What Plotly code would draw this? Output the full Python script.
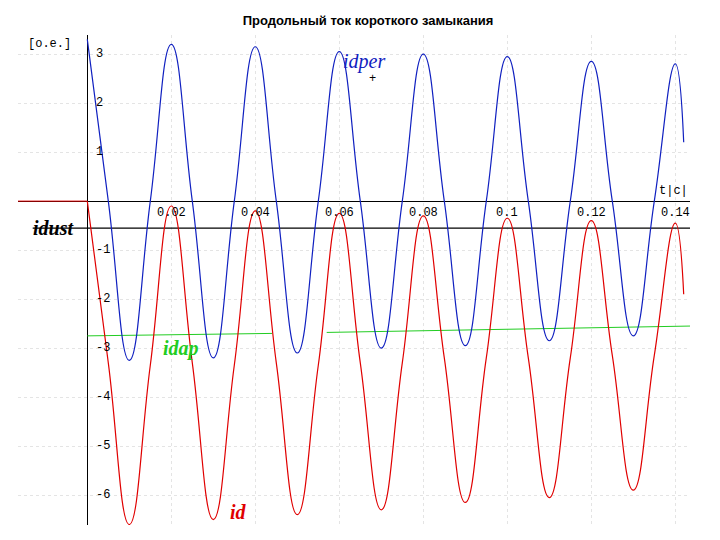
import plotly.graph_objects as go

# time points every quarter period (s)
t = [i * 0.005 for i in range(29)] + [0.142]

idper = [3.3, 0, -3.25, 0, 3.2, 0, -3.2, 0, 3.15, 0, -3.1, 0, 3.05, 0, -3.0, 0,
         3.0, 0, -2.95, 0, 2.95, 0, -2.85, 0, 2.85, 0, -2.75, 0, 2.8, 1.2]
id_ = [0, -3.3, -6.6, -3.35, -0.1, -3.3, -6.5, -3.35, -0.2, -3.3, -6.4, -3.35,
       -0.25, -3.3, -6.3, -3.3, -0.3, -3.2, -6.15, -3.2, -0.35, -3.2, -6.05,
       -3.2, -0.4, -3.15, -5.9, -3.15, -0.45, -1.9]

idap_t1 = [0.0, 0.044]
idap_1 = [-2.75, -2.7]
idap_t2 = [0.057, 0.1435]
idap_2 = [-2.68, -2.55]

id_pre_t = [-0.0165, 0.0]
id_pre = [0, 0]
idust_t = [-0.013, 0.1435]
idust = [-0.55, -0.55]

x_ticks = [0.02, 0.04, 0.06, 0.08, 0.1, 0.12, 0.14]
x_tick_labels = ["0.02", "0.04", "0.06", "0.08", "0.1", "0.12", "0.14"]
y_ticks = [3, 2, 1, -1, -2, -3, -4, -5, -6]

mono = "Liberation Mono"

fig = go.Figure()
fig.add_trace(go.Scatter(x=idust_t, y=idust, mode="lines", line=dict(color="black", width=1.2)))
fig.add_trace(go.Scatter(x=id_pre_t, y=id_pre, mode="lines", line=dict(color="#e00000", width=1)))
fig.add_trace(go.Scatter(x=idap_t1, y=idap_1, mode="lines", line=dict(color="#22cc22", width=1)))
fig.add_trace(go.Scatter(x=idap_t2, y=idap_2, mode="lines", line=dict(color="#22cc22", width=1)))
fig.add_trace(go.Scatter(x=t, y=idper, mode="lines",
                         line=dict(color="#1020c0", width=1.2, shape="spline", smoothing=1.3)))
fig.add_trace(go.Scatter(x=t, y=id_, mode="lines",
                         line=dict(color="#e00000", width=1.2, shape="spline", smoothing=1.3)))

ann = []
for v, s in zip(x_ticks, x_tick_labels):
    ann.append(dict(x=v, y=-0.05, text=s, showarrow=False, yanchor="top",
                    font=dict(family=mono, size=12, color="black")))
for v in y_ticks:
    ann.append(dict(x=0.0015, y=v, text=str(v), showarrow=False, xanchor="left",
                    font=dict(family=mono, size=12, color="black")))
ann += [
    dict(x=-0.0145, y=3.2, text="[o.e.]", showarrow=False, xanchor="left",
         font=dict(family=mono, size=12, color="black")),
    dict(x=0.1435, y=0.2, text="t|c|", showarrow=False, xanchor="right",
         font=dict(family=mono, size=12, color="black")),
    dict(x=0.0605, y=2.85, text="<i>idper</i>", showarrow=False, xanchor="left",
         font=dict(family="Liberation Serif", size=20, color="#1020c0")),
    dict(x=0.068, y=2.5, text="+", showarrow=False,
         font=dict(family=mono, size=12, color="black")),
    dict(x=-0.0135, y=-0.55, text="<b><i>idust</i></b>", showarrow=False, xanchor="left",
         font=dict(family="Liberation Serif", size=20, color="black")),
    dict(x=0.0175, y=-3.0, text="<b><i>idap</i></b>", showarrow=False, xanchor="left",
         font=dict(family="Liberation Serif", size=20, color="#22cc22")),
    dict(x=0.0335, y=-6.35, text="<b><i>id</i></b>", showarrow=False, xanchor="left",
         font=dict(family="Liberation Serif", size=20, color="#e00000")),
]

fig.update_layout(
    width=720, height=540,
    margin=dict(l=10, r=38, t=27, b=23),
    paper_bgcolor="white", plot_bgcolor="white",
    showlegend=False,
    title=dict(text="<b>Продольный ток короткого замыкания</b>", x=0.5, y=0.985,
               font=dict(family="Liberation Sans", size=13, color="black")),
    annotations=ann,
    xaxis=dict(range=[-0.0165, 0.1435], tickvals=x_ticks, showticklabels=False,
               showgrid=True, gridcolor="#e4e4e4", griddash="dot", gridwidth=1,
               zeroline=True, zerolinecolor="black", zerolinewidth=1),
    yaxis=dict(range=[-6.61, 3.39], tickvals=y_ticks, showticklabels=False,
               showgrid=True, gridcolor="#e4e4e4", griddash="dot", gridwidth=1,
               zeroline=True, zerolinecolor="black", zerolinewidth=1),
)

fig.write_html("out.html")
